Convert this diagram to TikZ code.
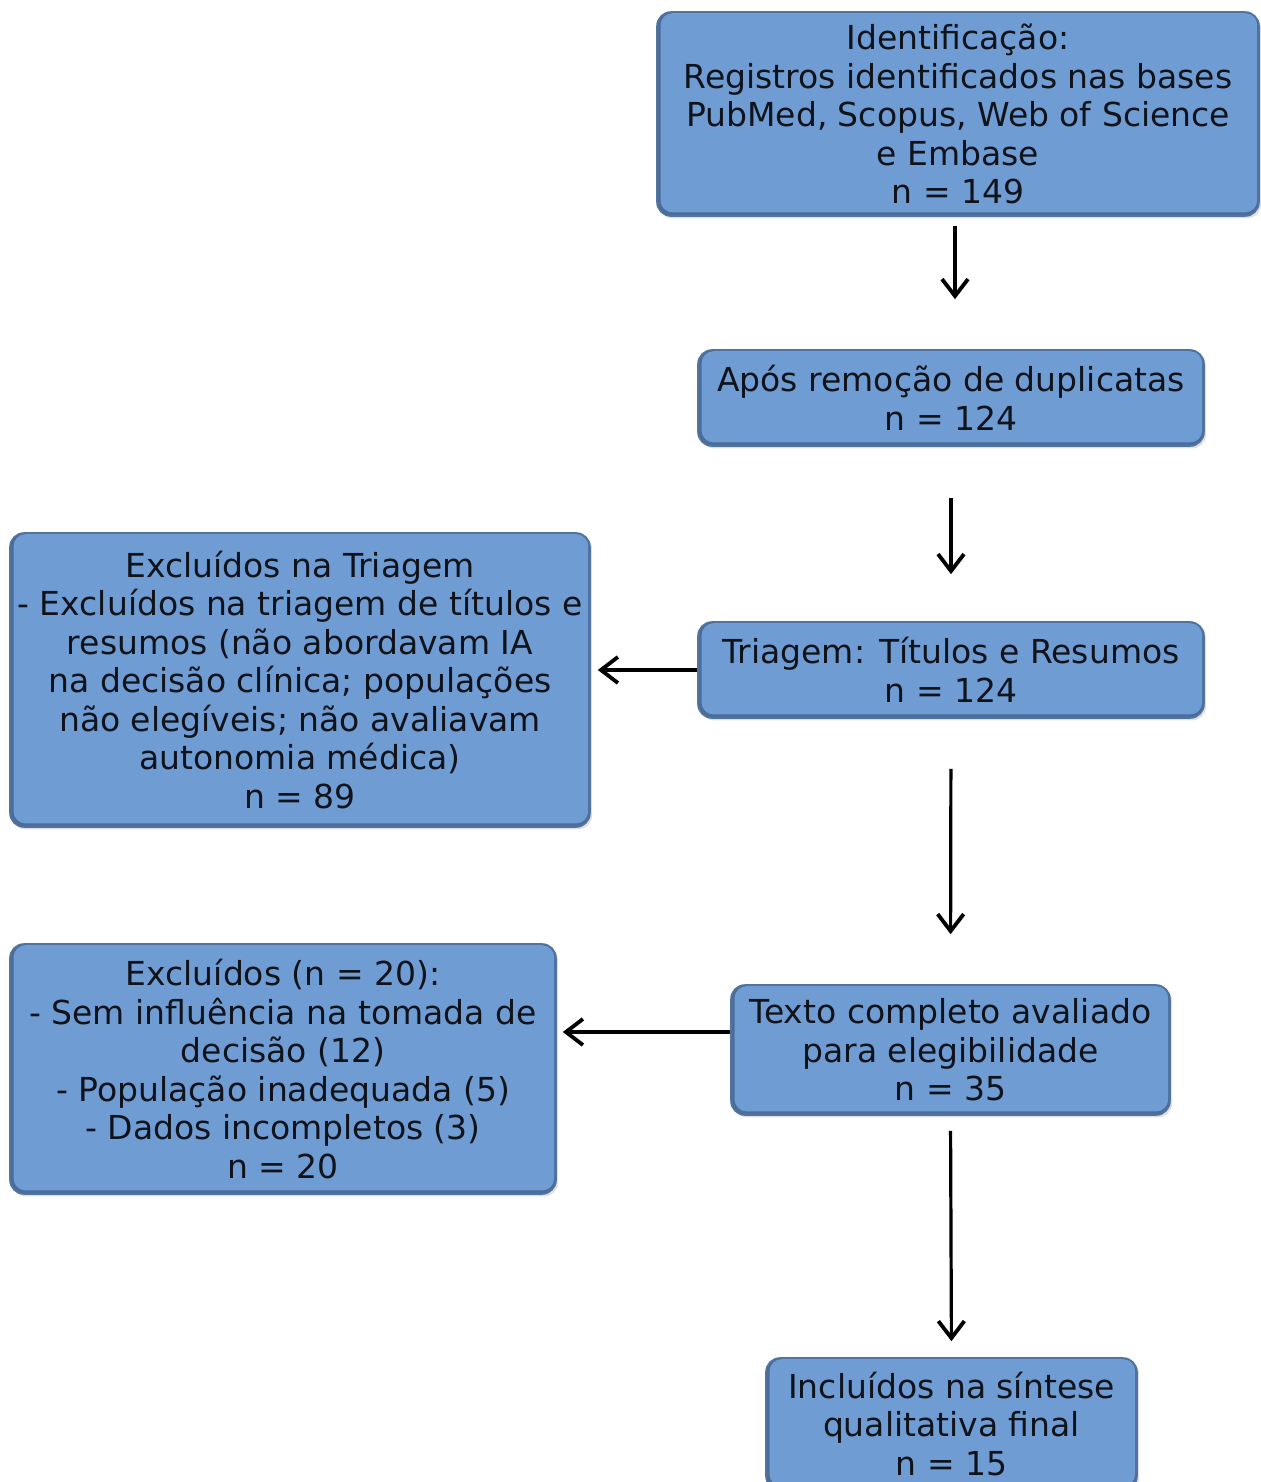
\documentclass[tikz,border=0pt]{standalone}
\usepackage{fontspec}
\setmainfont{DejaVu Sans}
\usetikzlibrary{arrows.meta,shadows}
\definecolor{boxfill}{HTML}{6F9CD3}
\definecolor{boxdark}{HTML}{4A6D9A}
\definecolor{boxedge}{HTML}{52739E}
\definecolor{txt}{HTML}{10131A}
\tikzset{
  flowbox/.style={draw=boxedge, line width=0.8pt, fill=boxdark, rounded corners=7pt,
    align=center, inner sep=0pt, text=txt, font=\fontsize{16.5}{19.25}\selectfont,
    path picture={\fill[boxfill, rounded corners=6pt]
      ([xshift=1.8pt,yshift=1.8pt]path picture bounding box.south west) rectangle
      ([xshift=-0.9pt,yshift=-0.6pt]path picture bounding box.north east);},
    drop shadow={opacity=0.25, shadow xshift=1pt, shadow yshift=-1.2pt}},
  arr/.style={line width=1.6pt, -{Straight Barb[length=8.5pt,width=13pt,line width=1.9pt]}}
}
\begin{document}
\begin{tikzpicture}[x=0.5pt,y=-0.5pt]
\useasboundingbox (0,0) rectangle (1261,1482);
\node[flowbox, minimum width=301pt, minimum height=102pt] (n1) at (958,114)
  {Identificação:\\Registros identificados nas bases\\PubMed, Scopus, Web of Science\\e Embase\\n = 149};
\node[flowbox, minimum width=253pt, minimum height=48pt] (n2) at (951,398)
  {Após remoção de duplicatas\\n = 124};
\node[flowbox, minimum width=253pt, minimum height=48pt] (n3) at (951,670)
  {Triagem: Títulos e Resumos\\n = 124};
\node[flowbox, minimum width=290pt, minimum height=147pt] (n4) at (300,680)
  {Excluídos na Triagem\\- Excluídos na triagem de títulos e\\resumos (não abordavam IA\\na decisão clínica; populações\\não elegíveis; não avaliavam\\autonomia médica)\\n = 89};
\node[flowbox, minimum width=219.5pt, minimum height=65pt] (n5) at (950.5,1050)
  {Texto completo avaliado\\para elegibilidade\\n = 35};
\node[flowbox, minimum width=185.5pt, minimum height=66pt] (n7) at (951.5,1424)
  {Incluídos na síntese\\qualitativa final\\n = 15};
\node[flowbox, minimum width=273pt, minimum height=125pt] (n6) at (283,1069)
  {Excluídos (n = 20):\\- Sem influência na tomada de\\decisão (12)\\- População inadequada (5)\\- Dados incompletos (3)\\n = 20};
\draw[arr, shorten <=4.5pt, shorten >=25pt] ([xshift=2pt]n2.north |- n1.south) -- ([xshift=2pt]n2.north);
\draw[arr, shorten <=25.5pt, shorten >=23.5pt] (n2.south) -- (n3.north);
\draw[arr, shorten >=3.5pt] (n3.west) -- (n3.west -| n4.east);
\draw[arr, shorten <=25pt, shorten >=25pt] (n3.south) -- (n5.north);
\draw[arr, shorten >=3pt] ([yshift=9pt]n5.west) -- ([yshift=9pt]n5.west -| n6.east);
\draw[arr, shorten <=7.5pt, shorten >=8pt] (n5.south) -- (n7.north);
\end{tikzpicture}
\end{document}
